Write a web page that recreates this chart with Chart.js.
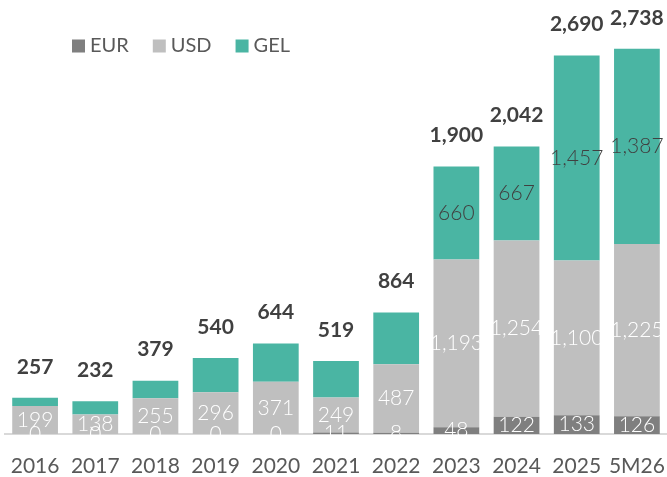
<!DOCTYPE html>
<html>
<head>
<meta charset="utf-8">
<script src="https://cdn.jsdelivr.net/npm/chart.js@4.4.1/dist/chart.umd.min.js"></script>
<style>
  body { margin: 0; background: #fff; }
</style>
</head>
<body>
<canvas id="myChart" width="667" height="477"></canvas>
<script>
// datos
const labels = ["2016","2017","2018","2019","2020","2021","2022","2023","2024","2025","5M26"];
const eur = [0, 0, 0, 0, 0, 11, 8, 48, 122, 133, 126];
const usd = [199, 138, 255, 296, 371, 249, 487, 1193, 1254, 1100, 1225];
const gel = [58, 94, 124, 244, 273, 259, 369, 660, 667, 1457, 1387];
const totals = [257, 232, 379, 540, 644, 519, 864, 1900, 2042, 2690, 2738];

const colEur = "#7f7f7f";
const colUsd = "#bfbfbf";
const colGel = "#4ab5a3";
const fontFam = "Lato, 'Noto Sans', sans-serif";

function fmt(v){
  return v.toLocaleString("en-US");
}

// etiquetas dentro de las barras + totales
const labelPlugin = {
  id: "barLabels",
  afterDatasetsDraw(chart){
    const ctx = chart.ctx;
    ctx.save();
    ctx.textAlign = "center";
    ctx.textBaseline = "middle";
    chart.data.datasets.forEach((ds, i) => {
      const meta = chart.getDatasetMeta(i);
      meta.data.forEach((bar, j) => {
        const v = ds.data[j];
        if (ds.label == "GEL" && v < 500) return;
        const p = bar.getProps(["x","y","base"], true);
        ctx.font = "300 21px " + fontFam;
        ctx.fillStyle = ds.label == "GEL" ? "#404040" : "#ffffff";
        ctx.fillText(fmt(v), p.x, (p.y + p.base) / 2);
      });
    });
    // totales
    const last = chart.getDatasetMeta(chart.data.datasets.length - 1);
    ctx.font = "bold 21px " + fontFam;
    ctx.fillStyle = "#404040";
    last.data.forEach((bar, j) => {
      const p = bar.getProps(["x","y"], true);
      ctx.fillText(fmt(totals[j]), p.x, p.y - 31);
    });
    ctx.restore();
  }
};

// leyenda dibujada encima del area
const legendPlugin = {
  id: "topLegend",
  afterDraw(chart){
    const ctx = chart.ctx;
    ctx.save();
    ctx.font = "20px " + fontFam;
    ctx.textBaseline = "middle";
    let x = 72;
    const y = 46;
    chart.data.datasets.forEach(ds => {
      ctx.fillStyle = ds.backgroundColor;
      ctx.fillRect(x, y - 6.5, 13, 13);
      ctx.fillStyle = "#595959";
      ctx.fillText(ds.label, x + 18, y);
      x += 18 + ctx.measureText(ds.label).width + 24;
    });
    ctx.restore();
  }
};

const data = {
  labels: labels,
  datasets: [
    { label: "EUR", data: eur, backgroundColor: colEur },
    { label: "USD", data: usd, backgroundColor: colUsd },
    { label: "GEL", data: gel, backgroundColor: colGel }
  ]
};

const config = {
  type: "bar",
  data: data,
  options: {
    responsive: false,
    animation: false,
    layout: { padding: { top: 12, left: 5, right: 0, bottom: 0 } },
    datasets: { bar: { categoryPercentage: 1, barPercentage: 0.76 } },
    plugins: {
      legend: { display: false },
      tooltip: { enabled: false }
    },
    scales: {
      x: {
        stacked: true,
        grid: { display: false },
        border: { display: true, color: "#d9d9d9", width: 2 },
        ticks: { color: "#595959", font: { family: fontFam, size: 21 }, padding: 12, maxRotation: 0 },
        afterFit(scale){
          scale.paddingLeft = 0;
          scale.paddingRight = 0;
          scale.height = 43;
        }
      },
      y: {
        stacked: true,
        display: false,
        min: 0,
        max: 3000
      }
    }
  },
  plugins: [labelPlugin, legendPlugin]
};

new Chart(document.getElementById("myChart"), config);
</script>
</body>
</html>
